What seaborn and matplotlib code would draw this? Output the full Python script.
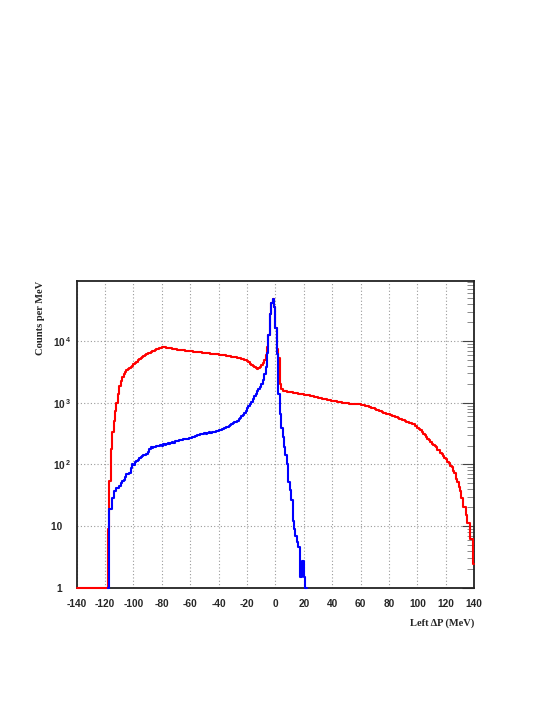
import numpy as np
import pandas as pd
import matplotlib
matplotlib.use('Agg')
import matplotlib.pyplot as plt
import matplotlib.ticker as mticker
import seaborn as sns

# Binning of the Left dP histograms (1 MeV bins)
bin_low = -140
bin_high = 140

# Counts per MeV (red = all events, blue = selected peak)
red_counts = [0] * 22 + [
    9, 54, 180, 330, 505, 720, 1000, 1380, 1850, 2250,
    2600, 2900, 3150, 3350, 3500, 3700, 3850, 4000, 4200, 4400,
    4650, 4900, 5100, 5300, 5450, 5650, 5850, 6050, 6300, 6500,
    6700, 6850, 6950, 7150, 7300, 7500, 7650, 7750, 7850, 7900,
    7850, 7800, 7750, 7700, 7600, 7550, 7450, 7400, 7350, 7250,
    7200, 7150, 7100, 7050, 7000, 6950, 6900, 6850, 6800, 6800,
    6750, 6700, 6650, 6600, 6550, 6550, 6500, 6450, 6400, 6350,
    6350, 6300, 6250, 6250, 6200, 6150, 6100, 6050, 6000, 6000,
    5950, 5900, 5850, 5800, 5750, 5700, 5650, 5600, 5550, 5500,
    5450, 5400, 5350, 5300, 5200, 5100, 5000, 4850, 4700, 4500,
    4300, 4100, 3900, 3750, 3600, 3550, 3600, 3800, 4050, 4400,
    5000, 6000, 7900, 12500, 27000, 42000, 48000, 35000, 16500, 7500,
    5400, 2000, 1650, 1560, 1530, 1520, 1500, 1490, 1485, 1470,
    1450, 1445, 1420, 1415, 1400, 1390, 1385, 1360, 1355, 1340,
    1320, 1315, 1290, 1285, 1260, 1250, 1230, 1215, 1200, 1195,
    1170, 1165, 1140, 1135, 1110, 1105, 1090, 1085, 1070, 1060,
    1055, 1035, 1030, 1020, 1030, 1005, 990, 995, 975, 975,
    970, 960, 965, 950, 955, 940, 945, 935, 930, 915,
    905, 895, 875, 870, 845, 835, 815, 810, 785, 775,
    755, 745, 720, 710, 690, 685, 665, 660, 650, 625,
    615, 605, 585, 585, 570, 550, 548, 530, 528, 505,
    495, 490, 465, 462, 450, 445, 420, 412, 395, 372,
    355, 338, 312, 298, 280, 262, 245, 232, 212, 208,
    195, 188, 172, 168, 152, 148, 138, 126, 122, 110,
    106, 94, 90, 79, 72, 58, 52, 43, 37, 28,
    20, 20, 15, 11, 11, 6.2, 6.2, 2.4,
]

blue_counts = [0] * 23 + [
    19, 19, 28, 37, 37, 42, 42, 45, 50, 54,
    55, 62, 70, 71, 73, 88, 100, 97, 108, 115,
    118, 128, 130, 136, 140, 142, 148, 160, 180, 188,
    186, 192, 190, 198, 195, 200, 205, 202, 214, 208,
    215, 220, 216, 225, 230, 226, 235, 240, 236, 245,
    250, 246, 255, 262, 258, 257, 270, 265, 278, 282,
    290, 285, 295, 300, 305, 310, 313, 318, 315, 325,
    330, 328, 335, 330, 340, 345, 348, 355, 362, 372,
    380, 392, 400, 410, 425, 438, 450, 462, 480, 495,
    510, 540, 570, 600, 640, 690, 745, 810, 880, 950,
    1040, 1150, 1260, 1380, 1520, 1650, 1770, 2000, 2350, 2900,
    3800, 6500, 12500, 27000, 42000, 48000, 35000, 16500, 6100, 1400,
    660, 395, 275, 188, 140, 100, 51, 38, 26, 12,
    9, 7, 5.5, 4.5, 1.5, 1.5, 2.7, 1.5,
] + [0] * 119

x_ticks = list(range(-140, 141, 20))
y_floor = 1
y_top = 9.5e4

edges = np.arange(bin_low, bin_high + 1, 1)
centers = edges[:-1] + 0.5
df = pd.DataFrame({'dp': centers, 'red': red_counts, 'blue': blue_counts})
# empty bins are drawn on the floor of the log axis, like ROOT does
df['red_w'] = df['red'].clip(lower=y_floor)
df['blue_w'] = df['blue'].clip(lower=y_floor)

# blue is only drawn where it has entries (plus one empty bin each side)
nz = np.nonzero(df['blue'].values)[0]
blue_df = df.iloc[nz[0] - 1:nz[-1] + 2]
blue_range = (edges[nz[0] - 1], edges[nz[-1] + 2])

sns.set_style('white')
plt.rcParams['font.family'] = ['Liberation Sans', 'DejaVu Sans']
plt.rcParams['axes.unicode_minus'] = False
plt.rcParams['mathtext.fontset'] = 'custom'
plt.rcParams['mathtext.rm'] = 'Liberation Sans:bold'
plt.rcParams['mathtext.it'] = 'Liberation Sans:bold'
plt.rcParams['mathtext.bf'] = 'Liberation Sans:bold'

fig = plt.figure(figsize=(5.54, 7.17), dpi=100)
ax = fig.add_axes([0.1384, 0.1803, 0.7177, 0.4282])

sns.histplot(data=df, x='dp', weights='red_w', binwidth=1,
             binrange=(bin_low, bin_high), element='step',
             fill=False, color='#ff0000', linewidth=1.5, ax=ax,
             clip_on=False, zorder=3)
sns.histplot(data=blue_df, x='dp', weights='blue_w', binwidth=1,
             binrange=blue_range, element='step', fill=False,
             color='#0000ff', linewidth=1.5, ax=ax, clip_on=False, zorder=3)

ax.set_yscale('log')
ax.set_xlim(bin_low, bin_high)
ax.set_ylim(y_floor, y_top)

ax.xaxis.set_major_locator(mticker.FixedLocator(x_ticks))
ax.xaxis.set_minor_locator(mticker.MultipleLocator(2.5))
ax.yaxis.set_major_locator(mticker.LogLocator(base=10))
ax.yaxis.set_minor_locator(mticker.LogLocator(base=10, subs=np.arange(2, 10)))
ax.yaxis.set_minor_formatter(mticker.NullFormatter())


def log_label(v, pos):
    if v == 1:
        return '1   '
    if v == 10:
        return '10   '
    return '$10^{\\,%d}$' % round(np.log10(v))


ax.yaxis.set_major_formatter(mticker.FuncFormatter(log_label))

ax.grid(True, which='major', color='#9a9a9a', linestyle=(0, (1, 2)), linewidth=0.8)

ax.tick_params(axis='x', which='major', direction='in', length=6, width=0.8,
               color='#444444', pad=8, labelsize=7.3, top=False)
ax.tick_params(axis='x', which='minor', direction='in', length=2.8, width=0.6,
               color='#777777', top=False)
ax.tick_params(axis='y', which='major', direction='in', length=8.5, width=0.8,
               color='#444444', pad=4, labelsize=7.3, right=True)
ax.tick_params(axis='y', which='minor', direction='in', length=5, width=0.6,
               color='#777777', right=True)
for lab in ax.get_xticklabels() + ax.get_yticklabels():
    lab.set_fontweight('bold')

for side in ['left', 'right', 'top', 'bottom']:
    ax.spines[side].set_color('#222222')
    ax.spines[side].set_linewidth(1.3)

title_font = {'family': 'Liberation Serif', 'weight': 'bold', 'size': 7.6}
ax.set_xlabel('Left \u0394P (MeV)', loc='right', fontdict=title_font)
ax.xaxis.set_label_coords(1.0, -0.115)
ax.xaxis.label.set_va('center')
ax.set_ylabel('Counts per MeV', loc='top', fontdict=title_font)
ax.yaxis.set_label_coords(-0.0898, 1.0)
ax.yaxis.label.set_va('center')

fig.savefig('out.png', dpi=100, facecolor='white')
